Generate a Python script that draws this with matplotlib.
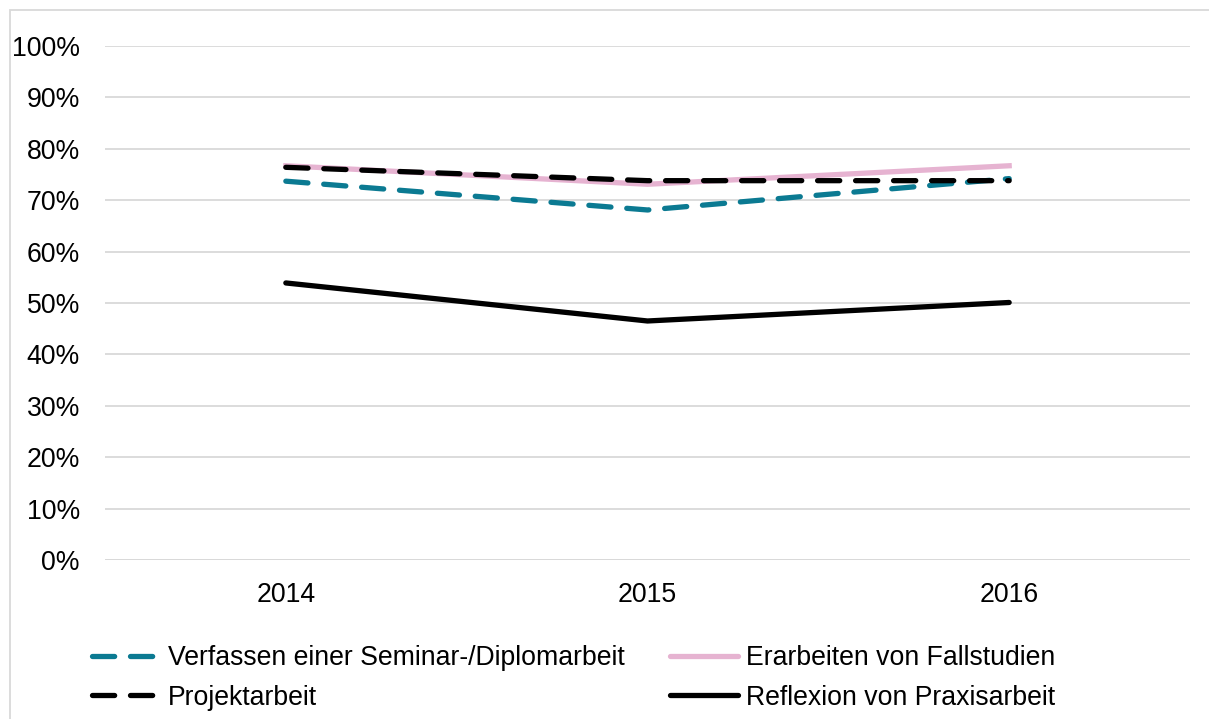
import matplotlib
matplotlib.use("Agg")
import matplotlib.pyplot as plt
from matplotlib.patches import Rectangle

plt.rcParams['font.family'] = ['Liberation Sans', 'DejaVu Sans']

years = ["2014", "2015", "2016"]
seminar = [0.737, 0.681, 0.742]
fallstudien = [0.767, 0.731, 0.767]
projekt = [0.764, 0.738, 0.738]
reflexion = [0.539, 0.465, 0.501]
yticks = [i / 10 for i in range(11)]
ytick_labels = [f"{i*10}%" for i in range(11)]

fig = plt.figure(figsize=(12.09, 7.19), dpi=100)
ax = fig.add_axes([105/1209, 1-560/719, (1190-105)/1209, (560-46)/719])

x = list(range(len(years)))
fs = 19.2
l1, = ax.plot(x, seminar, color='#0B7A92', lw=3.8, ls=(0, (4.2, 3.0)),
              dash_capstyle='round', label='Verfassen einer Seminar-/Diplomarbeit', zorder=3)
l2, = ax.plot(x, fallstudien, color='#E6B3D1', lw=3.8, label='Erarbeiten von Fallstudien', zorder=2)
l3, = ax.plot(x, projekt, color='black', lw=3.8, ls=(0, (4.2, 3.0)),
              dash_capstyle='round', label='Projektarbeit', zorder=4)
l4, = ax.plot(x, reflexion, color='black', lw=3.8, solid_capstyle='round',
              label='Reflexion von Praxisarbeit', zorder=3)

ax.set_xlim(-0.5, 2.5)
ax.set_ylim(0, 1.0)
ax.set_yticks(yticks)
ax.set_yticklabels(ytick_labels, fontsize=fs)
ax.set_xticks(x)
ax.set_xticklabels(years, fontsize=fs)
ax.tick_params(axis='y', length=0, pad=18)
ax.tick_params(axis='x', length=0, pad=16)
ax.grid(axis='y', color='#D9D9D9', lw=1.3, zorder=0)
ax.set_axisbelow(True)
for s in ax.spines.values():
    s.set_visible(False)
ax.axhline(0, color='#D9D9D9', lw=1.3, zorder=1)

fig.patches.append(Rectangle((10/1209, -0.1), 1.2, 1.1 - 10/719, transform=fig.transFigure,
                             fill=False, edgecolor='#D9D9D9', lw=1.3))

leg = fig.legend(handles=[l1, l3, l2, l4], ncol=2, loc='upper left',
                 bbox_to_anchor=(92/1209, 1-645/719), frameon=False, fontsize=fs,
                 handlelength=2.55, handletextpad=0.3, columnspacing=1.7, labelspacing=0.51,
                 borderaxespad=0, borderpad=0)
for h in leg.legend_handles:
    h.set_solid_capstyle('round')
    h.set_dash_capstyle('round')

fig.savefig("out.png", dpi=100)
